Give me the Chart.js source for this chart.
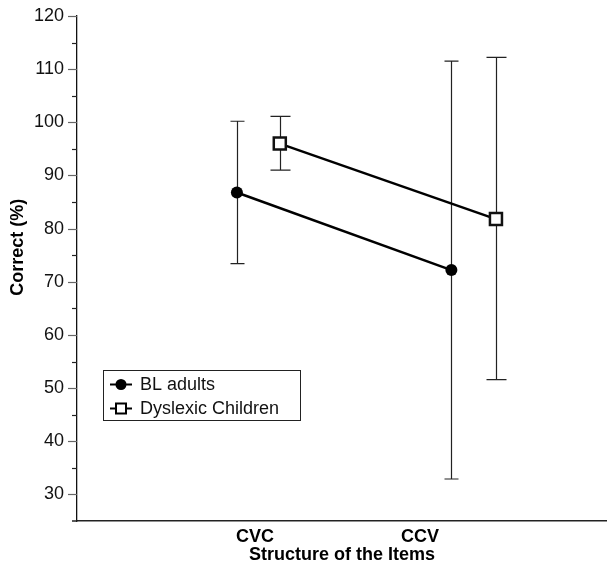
<!DOCTYPE html>
<html>
<head>
<meta charset="utf-8">
<script src="https://cdn.jsdelivr.net/npm/chart.js@4.4.1/dist/chart.umd.min.js"></script>
<style>
  html, body { margin: 0; padding: 0; background: #fff; }
  #wrap { width: 607px; height: 572px; }
</style>
</head>
<body>
<div id="wrap"><canvas id="chart" width="607" height="572"></canvas></div>
<script>
/* ── Data ── */
var categories = ['CVC', 'CCV'];
var categoryPos = [1, 2];

var blMeans = [86.8, 72.2];
var blLow   = [73.4, 32.9];
var blHigh  = [100.2, 111.5];
var blShift = [-0.11, 0.19];

var dysMeans = [96.0, 81.8];
var dysLow   = [91.0, 51.6];
var dysHigh  = [101.1, 112.2];
var dysShift = [0.15, 0.46];

var FONT = '"Liberation Sans", Arial, Helvetica, sans-serif';

function toPoints(means, shift) {
    return means.map(function (m, i) { return { x: categoryPos[i] + shift[i], y: m }; });
}

// error bars drawn under the lines/markers
var errorBars = {
    id: 'errorBars',
    beforeDatasetsDraw: function (chart) {
        var ctx = chart.ctx, xs = chart.scales.x, ys = chart.scales.y;
        var sets = [
            { low: blLow, high: blHigh, shift: blShift, cap: 7 },
            { low: dysLow, high: dysHigh, shift: dysShift, cap: 10 }
        ];
        ctx.save();
        ctx.strokeStyle = '#222';
        ctx.lineWidth = 1.2;
        sets.forEach(function (s) {
            for (var i = 0; i < categoryPos.length; i++) {
                var px = Math.round(xs.getPixelForValue(categoryPos[i] + s.shift[i])) + 0.5;
                var y1 = ys.getPixelForValue(s.low[i]);
                var y2 = ys.getPixelForValue(s.high[i]);
                ctx.beginPath();
                ctx.moveTo(px, y1); ctx.lineTo(px, y2);
                ctx.moveTo(px - s.cap, y1); ctx.lineTo(px + s.cap, y1);
                ctx.moveTo(px - s.cap, y2); ctx.lineTo(px + s.cap, y2);
                ctx.stroke();
            }
        });
        ctx.restore();
    }
};

// y tick marks (long at tens, short at fives) and the rotated y title
var yAxisExtras = {
    id: 'yAxisExtras',
    afterDraw: function (chart) {
        var ctx = chart.ctx, ys = chart.scales.y, area = chart.chartArea, left = area.left;
        ctx.save();
        ys.ticks.forEach(function (t) {
            if (t.value < 30) return;
            var major = t.value % 10 === 0;
            var py = Math.round(ys.getPixelForValue(t.value)) + 0.5;
            ctx.strokeStyle = major ? '#666' : '#222';
            ctx.lineWidth = 1.2;
            ctx.beginPath();
            ctx.moveTo(left - (major ? 9 : 5), py);
            ctx.lineTo(left, py);
            ctx.stroke();
        });
        // x axis runs a few px past the y axis
        ctx.strokeStyle = '#222';
        ctx.lineWidth = 1.5;
        ctx.beginPath();
        ctx.moveTo(left - 5, area.bottom);
        ctx.lineTo(left, area.bottom);
        ctx.stroke();

        ctx.translate(18, ys.getPixelForValue(76.5));
        ctx.rotate(-Math.PI / 2);
        ctx.fillStyle = '#000';
        ctx.font = 'bold 18px ' + FONT;
        ctx.textAlign = 'center';
        ctx.textBaseline = 'middle';
        ctx.fillText('Correct (%)', 0, 0);
        ctx.restore();
    }
};

// legend boxed inside the plot
var boxLegend = {
    id: 'boxLegend',
    afterDraw: function (chart) {
        var ctx = chart.ctx;
        var bx = 103.5, by = 370.5, bw = 197, bh = 50;
        ctx.save();
        ctx.strokeStyle = '#222';
        ctx.lineWidth = 1;
        ctx.strokeRect(bx, by, bw, bh);
        chart.data.datasets.forEach(function (ds, i) {
            var cy = by + 14 + i * 24;
            ctx.strokeStyle = '#000';
            ctx.lineWidth = 2;
            ctx.beginPath();
            ctx.moveTo(110, cy); ctx.lineTo(132, cy);
            ctx.stroke();
            if (i === 0) {
                ctx.fillStyle = '#000';
                ctx.beginPath();
                ctx.arc(121, cy, 5.5, 0, Math.PI * 2);
                ctx.fill();
            } else {
                ctx.fillStyle = '#fff';
                ctx.fillRect(116, cy - 5, 10, 10);
                ctx.lineWidth = 2;
                ctx.strokeRect(116, cy - 5, 10, 10);
            }
            ctx.fillStyle = '#111';
            ctx.font = '18px ' + FONT;
            ctx.textBaseline = 'middle';
            ctx.fillText(ds.label, 140, cy + 1);
        });
        ctx.restore();
    }
};

new Chart(document.getElementById('chart').getContext('2d'), {
    type: 'line',
    data: {
        datasets: [
            {
                label: 'BL adults',
                data: toPoints(blMeans, blShift),
                borderColor: '#000',
                borderWidth: 2.5,
                pointStyle: 'circle',
                pointRadius: 6,
                pointBackgroundColor: '#000',
                pointBorderColor: '#000',
                pointBorderWidth: 0
            },
            {
                label: 'Dyslexic Children',
                data: toPoints(dysMeans, dysShift),
                borderColor: '#000',
                borderWidth: 2.5,
                pointStyle: 'rect',
                pointRadius: 8.5,
                pointBackgroundColor: '#fff',
                pointBorderColor: '#111',
                pointBorderWidth: 2.5
            }
        ]
    },
    options: {
        responsive: false,
        animation: false,
        devicePixelRatio: 1,
        layout: { autoPadding: false, padding: { top: 16, right: 0, left: 0, bottom: 0 } },
        plugins: { legend: { display: false }, tooltip: { enabled: false } },
        scales: {
            x: {
                type: 'linear',
                min: -0.079,
                max: 3.133,
                afterBuildTicks: function (scale) {
                    scale.ticks = categoryPos.map(function (v) { return { value: v }; });
                },
                afterFit: function (scale) {
                    scale.height = 51;
                    scale.paddingLeft = 0;
                    scale.paddingRight = 0;
                },
                grid: { drawOnChartArea: false, drawTicks: false },
                border: { color: '#222', width: 1.5 },
                ticks: {
                    padding: 5,
                    maxRotation: 0,
                    color: '#000',
                    font: { family: FONT, size: 18, weight: 'bold' },
                    callback: function (v) {
                        var i = categoryPos.indexOf(v);
                        return i >= 0 ? categories[i] : '';
                    }
                },
                title: {
                    display: true,
                    text: 'Structure of the Items',
                    color: '#000',
                    padding: { top: 0, bottom: 6 },
                    font: { family: FONT, size: 18, weight: 'bold' }
                }
            },
            y: {
                min: 25,
                max: 120,
                afterFit: function (scale) {
                    scale.width = 77;
                    scale.paddingTop = 0;
                    scale.paddingBottom = 0;
                },
                grid: { drawOnChartArea: false, drawTicks: false },
                border: { color: '#111', width: 1.3 },
                ticks: {
                    stepSize: 5,
                    padding: 13,
                    color: '#111',
                    font: { family: FONT, size: 18 },
                    callback: function (v) { return v % 10 === 0 && v >= 30 ? v : ''; }
                },
                title: { display: false }
            }
        }
    },
    plugins: [errorBars, yAxisExtras, boxLegend]
});
</script>
</body>
</html>
